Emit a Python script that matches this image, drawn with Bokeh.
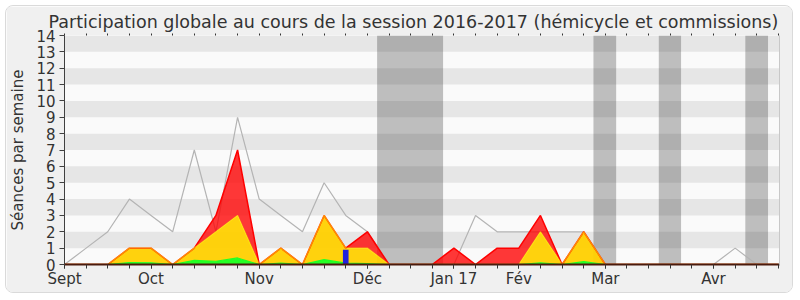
from bokeh.plotting import figure
from bokeh.models import Range1d, FixedTicker, LinearAxis, BoxAnnotation
from bokeh.embed import file_html
from bokeh.resources import INLINE

# ---- data (one point per week, week 0 = start of September 2016) ----
weeks = list(range(34))
month_ticks = [0, 4, 9, 14, 18, 21, 25, 30]
month_labels = ["Sept", "Oct", "Nov", "Déc", "Jan 17", "Fév", "Mar", "Avr"]

seances_total = [0, 1, 2, 4, 3, 2, 7, 2, 9, 4,
                 3, 2, 5, 3, 2, 0, 0, 0, 0, 3,
                 2, 2, 2, 2, 2, 0, 0, 0, 0, 0,
                 0, 1, 0, 0]
presences_total = [0, 0, 0, 1, 1, 0, 1, 3, 7, 0,
                   1, 0, 3, 1, 2, 0, 0, 0, 1, 0,
                   1, 1, 3, 0, 2, 0, 0, 0, 0, 0,
                   0, 0, 0, 0]
presences_hemicycle = [0, 0, 0, 1, 1, 0, 1, 2, 3, 0,
                       1, 0, 3, 1, 1, 0, 0, 0, 0, 0,
                       0, 0, 2, 0, 2, 0, 0, 0, 0, 0,
                       0, 0, 0, 0]
interventions = [0, 0, 0, 0.12, 0.1, 0, 0.25, 0.2, 0.4, 0,
                 0.08, 0, 0.3, 0.08, 0.05, 0, 0, 0, 0, 0,
                 0, 0, 0.1, 0, 0.17, 0, 0, 0, 0, 0,
                 0, 0, 0, 0]
questions_weeks = [13]
questions = [0.9]
vacances_debut = [14.45, 24.45, 27.47, 31.47]
vacances_fin = [17.5, 25.5, 28.5, 32.52]

FONT = "DejaVu Sans"
TXT = "#333333"

p = figure(width=788, height=288,
           x_range=Range1d(0, 33.05), y_range=Range1d(0, 14),
           output_backend="svg", toolbar_location=None,
           min_border_left=54, min_border_right=15,
           min_border_top=29, min_border_bottom=30,
           background_fill_color="#FAFAFA", border_fill_color="#F0F0F0",
           outline_line_color=None)
p.styles = {"margin-left": "5px", "margin-top": "5px",
            "border": "1px solid #DADADA", "border-radius": "8px",
            "overflow": "hidden"}
p.grid.visible = False

# background stripes
for k in range(1, 14, 2):
    p.add_layout(BoxAnnotation(bottom=k, top=k + 1, fill_color="#E6E6E6",
                               fill_alpha=1, line_color=None, level="underlay"))
# vacation bands
for a, b in zip(vacances_debut, vacances_fin):
    p.add_layout(BoxAnnotation(left=a, right=b, fill_color="#000000",
                               fill_alpha=0.24, line_color=None, level="underlay"))

# total sessions line (under the areas)
p.line(weeks, seances_total, line_color="#B4B4B4", line_width=1.2)

# stacked areas
p.varea(x=weeks, y1=presences_hemicycle, y2=presences_total,
        fill_color="#FF0000", fill_alpha=0.78)
p.varea(x=weeks, y1=interventions, y2=presences_hemicycle,
        fill_color="#FFD000", fill_alpha=0.95)
p.varea(x=weeks, y1=0, y2=interventions,
        fill_color="#00FF00", fill_alpha=0.85)
p.line(weeks, presences_total, line_color="#FF0000", line_width=1.5)
p.line(weeks, presences_hemicycle, line_color="#FFEE00", line_width=1.3, line_alpha=0.6)
p.line(weeks, interventions, line_color="#22FF22", line_width=1.2)

p.vbar(x=questions_weeks, width=0.26, top=questions, bottom=0,
       fill_color="#2222DD", line_color=None)

# bottom axis: month labels, a tick every week
xa = p.xaxis[0]
xa.ticker = FixedTicker(ticks=month_ticks, minor_ticks=weeks)
xa.major_label_overrides = dict(zip(month_ticks, month_labels))
xa.axis_line_color = "#4A1A0C"
xa.axis_line_width = 2
xa.major_tick_line_color = "#333333"
xa.minor_tick_line_color = "#333333"
xa.major_tick_out = 4
xa.major_tick_in = 0
xa.minor_tick_out = 4
xa.minor_tick_in = 0
xa.major_label_text_font = FONT
xa.major_label_text_font_size = "15px"
xa.major_label_text_color = TXT
xa.major_label_standoff = 1

# left axis
ya = p.yaxis[0]
ya.ticker = FixedTicker(ticks=list(range(15)))
ya.axis_line_color = "#404040"
ya.major_tick_line_color = "#404040"
ya.major_tick_out = 5
ya.major_tick_in = 0
ya.minor_tick_line_color = None
ya.major_label_text_font = FONT
ya.major_label_text_font_size = "15px"
ya.major_label_text_color = TXT
ya.major_label_standoff = 4
ya.axis_label = "Séances par semaine"
ya.axis_label_text_font = FONT
ya.axis_label_text_font_size = "15px"
ya.axis_label_text_font_style = "normal"
ya.axis_label_text_color = TXT
ya.axis_label_standoff = 6

# top axis: week ticks only, no labels
top = LinearAxis(ticker=FixedTicker(ticks=[], minor_ticks=weeks), axis_line_color=None,
                 major_tick_line_color=None,
                 minor_tick_line_color="#333333", minor_tick_out=2, minor_tick_in=0)
p.add_layout(top, "above")

# right border
right = LinearAxis(ticker=FixedTicker(ticks=[]), axis_line_color="#C8C8C8",
                   major_tick_line_color=None, minor_tick_line_color=None)
p.add_layout(right, "right")

p.title.text = "Participation globale au cours de la session 2016-2017 (hémicycle et commissions)"
p.title.text_font = FONT
p.title.text_font_size = "17.5px"
p.title.text_font_style = "normal"
p.title.text_color = TXT
p.title.align = "left"
p.title.offset = -16
p.title.standoff = 4

open("out.html", "w").write(file_html(p, INLINE))
